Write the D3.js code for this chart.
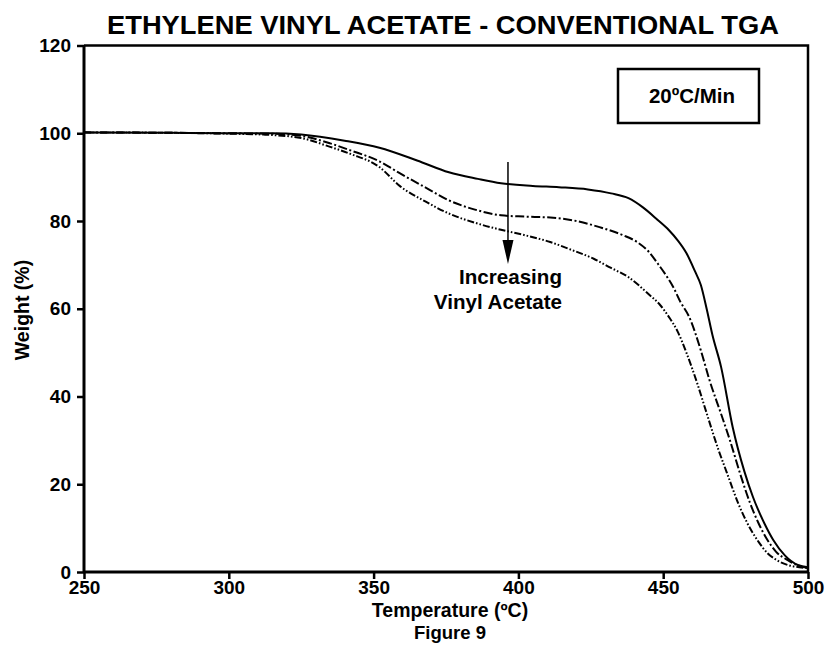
<!DOCTYPE html>
<html>
<head>
<meta charset="utf-8">
<script src="https://cdn.jsdelivr.net/npm/d3@7"></script>
<style>
  html, body { margin: 0; padding: 0; background: #fff; }
  svg text { font-family: "Liberation Sans", Arial, sans-serif; font-weight: bold; fill: #000; }
</style>
</head>
<body>
<svg id="chart" width="829" height="645"></svg>
<script>
// TGA weight-loss curves for three EVA grades, 20 °C/min
const xTicks = [250, 300, 350, 400, 450, 500];
const yTicks = [0, 20, 40, 60, 80, 100, 120];

// Lowest vinyl acetate content (solid line)
const evaLowT = [250, 280, 300, 315, 325, 340, 352, 365, 376, 386, 394, 405, 414, 424, 432, 438, 443, 448, 452, 455, 458, 461, 463, 465, 467, 470, 474, 478, 481, 485, 488, 492, 496.5, 500];
const evaLowW = [100.2, 100.1, 100, 100, 99.7, 98.3, 96.7, 93.8, 91.1, 89.6, 88.6, 88.0, 87.7, 87.2, 86.3, 85.2, 83.1, 80.3, 77.9, 75.6, 72.7, 68.5, 65.4, 60.0, 54.0, 46.7, 33.0, 23.0, 17.1, 11.0, 7.3, 3.8, 1.6, 1.1];

// Intermediate vinyl acetate content (dash-dot)
const evaMidT = [250, 280, 300, 315, 325, 335, 342, 352, 359, 368, 376, 385, 394, 402, 411, 420, 428, 436, 441, 445, 448, 451, 453.5, 456, 459, 463, 466, 470, 473, 477, 480, 483, 486, 489, 493, 497, 500];
const evaMidW = [100.2, 100.1, 100, 99.9, 99.4, 97.7, 96.1, 93.6, 90.9, 87.6, 84.7, 82.6, 81.3, 81.0, 80.8, 80.0, 78.6, 76.8, 75.2, 73.0, 70.4, 67.6, 64.9, 61.5, 58.1, 50.5, 43.7, 36.0, 30.1, 21.5, 15.7, 11.0, 7.3, 4.6, 2.7, 1.4, 0.9];

// Highest vinyl acetate content (dash-dot-dot)
const evaHighT = [250, 280, 300, 312, 325, 335, 342, 352, 359, 368, 376, 385, 394, 402, 411, 418, 426, 432, 438, 445, 449, 452, 455, 458, 462, 465, 469, 472, 476, 479, 483, 486, 489, 493, 497, 500];
const evaHighW = [100.2, 100.1, 99.9, 99.7, 98.9, 96.9, 95.3, 92.3, 88.0, 84.4, 81.7, 79.6, 78.0, 76.8, 75.2, 73.5, 71.4, 69.3, 67.2, 63.3, 60.8, 58.1, 54.8, 50.0, 42.5, 36.2, 28.0, 22.6, 15.5, 11.2, 6.8, 4.3, 2.8, 1.6, 1.1, 0.9];

const seriesDash = ["none", "9,2.5,2,2.5", "7,2,1.6,2,1.6,2"];

const svg = d3.select("#chart");
const plotLeft = 84, plotRight = 808, plotTop = 45.5, plotBottom = 572;

const x = d3.scaleLinear().domain([250, 500]).range([plotLeft, plotRight]);
const y = d3.scaleLinear().domain([0, 120]).range([plotBottom, plotTop]);

// Title
svg.append("text")
  .attr("x", 443).attr("y", 34)
  .attr("text-anchor", "middle")
  .attr("textLength", 672)
  .attr("lengthAdjust", "spacingAndGlyphs")
  .style("font-size", "25px")
  .text("ETHYLENE VINYL ACETATE - CONVENTIONAL TGA");

// Curves
const series = [
  d3.zip(evaLowT, evaLowW),
  d3.zip(evaMidT, evaMidW),
  d3.zip(evaHighT, evaHighW)
];
const line = d3.line()
  .x(d => x(d[0]))
  .y(d => y(d[1]))
  .curve(d3.curveMonotoneX);

svg.append("g").selectAll("path")
  .data(series)
  .join("path")
  .attr("d", line)
  .attr("fill", "none")
  .attr("stroke", "#000")
  .attr("stroke-width", 2)
  .attr("stroke-dasharray", (d, i) => seriesDash[i]);

// Frame: top and right edges
svg.append("path")
  .attr("d", `M${plotLeft},${plotTop}H${plotRight}V${plotBottom}`)
  .attr("fill", "none").attr("stroke", "#000").attr("stroke-width", 2.5);

// Axes
const xAxis = d3.axisBottom(x).tickValues(xTicks).tickSize(7).tickPadding(2).tickFormat(d3.format("d"));
const yAxis = d3.axisLeft(y).tickValues(yTicks).tickSize(7).tickPadding(6).tickFormat(d3.format("d"));

const gx = svg.append("g").attr("transform", `translate(0,${plotBottom})`).call(xAxis);
const gy = svg.append("g").attr("transform", `translate(${plotLeft},0)`).call(yAxis);
[gx, gy].forEach(g => {
  g.select(".domain").attr("stroke", "#000").attr("stroke-width", 3);
  g.selectAll(".tick line").attr("stroke", "#000").attr("stroke-width", 2.5);
  g.selectAll(".tick text")
    .style("font-family", "'Liberation Sans', Arial, sans-serif")
    .style("font-weight", "bold")
    .style("font-size", "19px")
    .attr("fill", "#000");
});
gy.select(".domain").attr("d", `M0,${plotBottom}V${plotTop}`);
gx.select(".domain").attr("d", `M${plotLeft},0H${plotRight}`);

// Axis titles
svg.append("text")
  .attr("x", 450).attr("y", 617)
  .attr("text-anchor", "middle")
  .style("font-size", "19.5px")
  .text("Temperature (\u00BAC)");
svg.append("text")
  .attr("x", 450).attr("y", 639)
  .attr("text-anchor", "middle")
  .style("font-size", "18.5px")
  .text("Figure 9");
svg.append("text")
  .attr("transform", "translate(29,310) rotate(-90)")
  .attr("text-anchor", "middle")
  .style("font-size", "19.5px")
  .text("Weight (%)");

// Heating-rate box
svg.append("rect")
  .attr("x", 618).attr("y", 69).attr("width", 141).attr("height", 54)
  .attr("fill", "#fff").attr("stroke", "#000").attr("stroke-width", 2.5);
svg.append("text")
  .attr("x", 692).attr("y", 103)
  .attr("text-anchor", "middle")
  .style("font-size", "20.5px")
  .text("20\u00BAC/Min");

// Arrow marking the trend with vinyl acetate content
const arrowT = 396.4;
const ax = x(arrowT);
svg.append("line")
  .attr("x1", ax).attr("x2", ax)
  .attr("y1", 162).attr("y2", 242)
  .attr("stroke", "#000").attr("stroke-width", 1.5);
svg.append("path")
  .attr("d", `M${ax - 5.5},240L${ax + 5.5},240L${ax},264Z`)
  .attr("fill", "#000");

svg.append("text")
  .attr("x", 562).attr("y", 284)
  .attr("text-anchor", "end")
  .style("font-size", "20.6px")
  .text("Increasing");
svg.append("text")
  .attr("x", 562).attr("y", 309)
  .attr("text-anchor", "end")
  .style("font-size", "20.6px")
  .text("Vinyl Acetate");
</script>
</body>
</html>
